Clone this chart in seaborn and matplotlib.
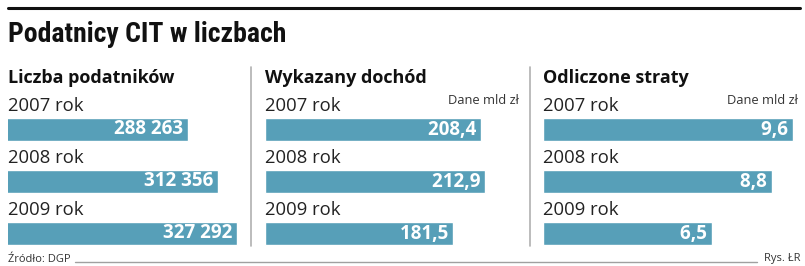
import matplotlib
matplotlib.use("Agg")
import matplotlib.pyplot as plt
import seaborn as sns
import pandas as pd
from matplotlib.lines import Line2D
from matplotlib import font_manager as fm

# ---- data ----
years = ["2007 rok", "2008 rok", "2009 rok"]
podatnicy = [288263, 312356, 327292]
podatnicy_labels = ["288 263", "312 356", "327 292"]
dochod = [208.4, 212.9, 181.5]
dochod_labels = ["208,4", "212,9", "181,5"]
straty = [9.6, 8.8, 6.5]
straty_labels = ["9,6", "8,8", "6,5"]
panel_titles = ["Liczba podatników", "Wykazany dochód", "Odliczone straty"]
title = "Podatnicy CIT w liczbach"
unit_note = "Dane mld zł"
source = "Źródło: DGP"
credit = "Rys. ŁR"

sns.set_theme(style="white")
plt.rcParams['font.family'] = ['Open Sans', 'DejaVu Sans']

W, H = 805, 266
fig = plt.figure(figsize=(W / 100, H / 100), dpi=100)
fig.patch.set_facecolor("white")

BAR = "#579fb8"

def fx(px):
    return px / W

def fy(py):
    return 1 - py / H

names = {f.name for f in fm.fontManager.ttflist}
cond = None
for cand in ["Liberation Sans Narrow", "Roboto Condensed", "DejaVu Sans"]:
    if cand in names:
        cond = cand
        break

# top rule
fig.add_artist(Line2D([fx(8), fx(800)], [fy(8), fy(8)], color="#111111", lw=2.2))
# title
fig.text(fx(8), fy(35), title, fontsize=20, fontweight="bold",
         family=[cond, 'DejaVu Sans'], stretch="condensed", va="center", ha="left", color="#111111")

panels = [
    (8, 240, podatnicy, podatnicy_labels, (144860, 144860 + 232 / 0.001255)),
    (265, 519, dochod, dochod_labels, (0, 254 / 1.035)),
    (543, 798, straty, straty_labels, (0, 255 / 26.0)),
]

ax_top, ax_bot = 90, 250
for i, (l, r, vals, labs, xl) in enumerate(panels):
    ax = fig.add_axes([fx(l), fy(ax_bot), (r - l) / W, (ax_bot - ax_top) / H])
    df = pd.DataFrame({"year": years, "value": vals})
    sns.barplot(data=df, y="year", x="value", orient="h", color=BAR, width=0.44,
                saturation=1, ax=ax)
    ax.set_xlim(*xl)
    ax.set_ylim(2 + (ax_bot - 233.5) / 52, -(129.5 - ax_top) / 52)
    ax.axis("off")
    for j, (v, lab) in enumerate(zip(vals, labs)):
        ax.text(v, j, lab + " ", ha="right", va="center", color="white",
                fontsize=13.5, fontweight="bold")
        ax.text(0, j - 0.46, years[j], transform=ax.get_yaxis_transform(),
                ha="left", va="center", fontsize=13.3, color="#222222")
    fig.text(fx(l), fy(78), panel_titles[i], fontsize=13, fontweight="bold",
             ha="left", va="center", color="#111111")
    if i > 0:
        fig.text(fx(r), fy(101), unit_note, fontsize=9.3, ha="right", va="center",
                 color="#333333")

# separators
for x in [251, 530]:
    fig.add_artist(Line2D([fx(x), fx(x)], [fy(67), fy(246)], color="#b0b0b0", lw=1.2))

# footer
fig.text(fx(8), fy(259), source, fontsize=8, ha="left", va="center", color="#333333")
fig.text(fx(800), fy(259), credit, fontsize=8, ha="right", va="center", color="#333333")
fig.add_artist(Line2D([fx(75), fx(757)], [fy(261.5), fy(261.5)], color="#a0a0a0", lw=1.0))

fig.savefig("out.png", dpi=100, facecolor="white")
